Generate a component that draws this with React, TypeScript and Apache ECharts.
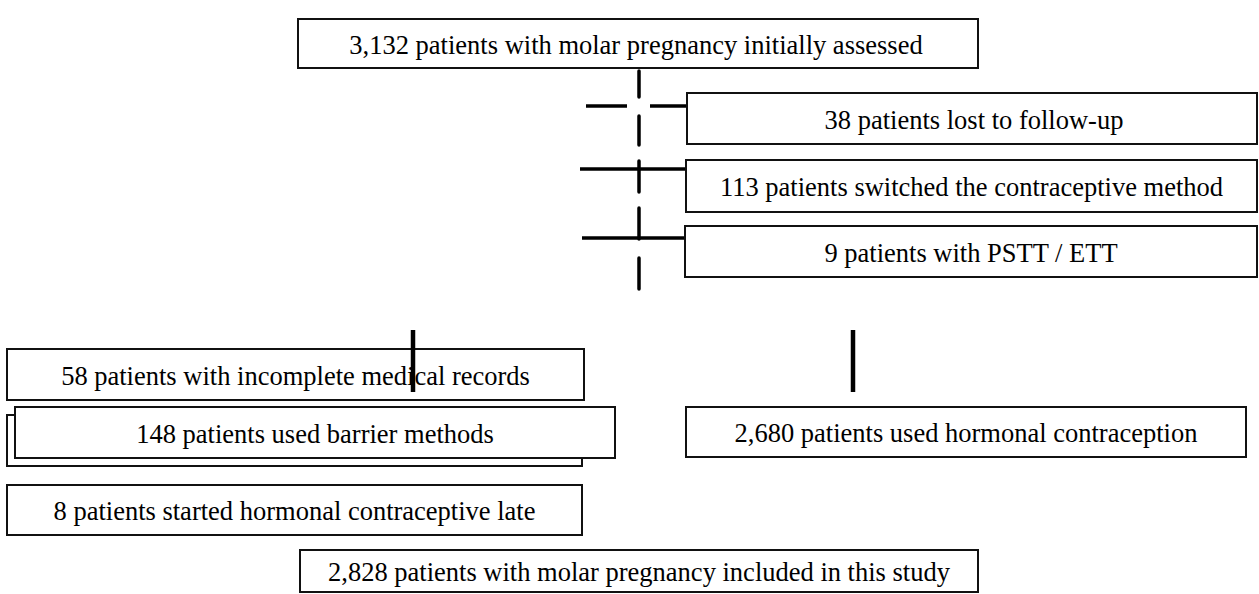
import { useEffect, useRef } from "react";
import * as echarts from "echarts";

const topLabel = "3,132 patients with molar pregnancy initially assessed";
const exclusionLabels = [
  "38 patients lost to follow-up",
  "113 patients switched the contraceptive method",
  "9 patients with PSTT / ETT",
];
const leftLabels = [
  "58 patients with incomplete medical records",
  "148 patients used barrier methods",
  "8 patients started hormonal contraceptive late",
];
const rightLabel = "2,680 patients used hormonal contraception";
const bottomLabel = "2,828 patients with molar pregnancy included in this study";

const FAMILY = '"Liberation Serif", "Times New Roman", serif';
const SIZE = 26.5;

function box(x: number, y: number, w: number, h: number, text: string, dx = 0, lw = 2) {
  const children: any[] = [
    {
      type: "rect",
      shape: { x, y, width: w, height: h },
      style: { fill: "#fff", stroke: "#111", lineWidth: lw },
    },
  ];
  if (text) {
    children.push({
      type: "text",
      x: x + w / 2 + dx,
      y: y + h / 2 + 1,
      style: {
        text,
        x: 0,
        y: 0,
        align: "center",
        verticalAlign: "middle",
        fontFamily: FAMILY,
        fontSize: SIZE,
        fill: "#000",
      },
    });
  }
  return { type: "group", children };
}

function line(x1: number, y1: number, x2: number, y2: number, lw = 4, cap = "butt") {
  return {
    type: "line",
    shape: { x1, y1, x2, y2 },
    style: { stroke: "#000", lineWidth: lw, lineCap: cap },
  };
}

const dashSegments = [
  [71, 97],
  [116, 145],
  [161, 192],
  [208, 239],
  [258, 289],
];

export default function App() {
  const ref = useRef<HTMLDivElement>(null);
  useEffect(() => {
    if (!ref.current) return;
    const chart = echarts.init(ref.current, undefined, { renderer: "svg" });
    const elements: any[] = [
      box(298, 19, 680, 49, topLabel, -2),
      ...dashSegments.map(([a, b]) => line(639, a, 639, b, 3.5, "round")),
      line(586, 106, 627, 106, 3.5),
      line(650, 106, 687, 106, 3.5),
      line(580, 169, 687, 169, 3.5),
      line(582, 238, 688, 238, 3.5),
      box(687, 93, 570, 51, exclusionLabels[0], 2),
      box(686, 160, 571, 52, exclusionLabels[1], 0),
      box(685, 226, 572, 51, exclusionLabels[2], 0),
      box(7, 349, 577, 51, leftLabels[0]),
      line(413, 330, 413, 392, 4.5),
      box(7, 415, 575, 51, ""),
      box(15, 407, 600, 51, leftLabels[1]),
      line(853, 330, 853, 392, 4.5),
      box(686, 407, 560, 50, rightLabel),
      box(7, 485, 575, 50, leftLabels[2]),
      box(300, 550, 678, 42, bottomLabel),
    ];
    chart.setOption({
      animation: false,
      backgroundColor: "#fff",
      graphic: { elements },
    });
    return () => chart.dispose();
  }, []);
  return (
    <div
      ref={ref}
      style={{ position: "fixed", left: 0, top: 0, width: 1259, height: 594, background: "#fff" }}
    />
  );
}
